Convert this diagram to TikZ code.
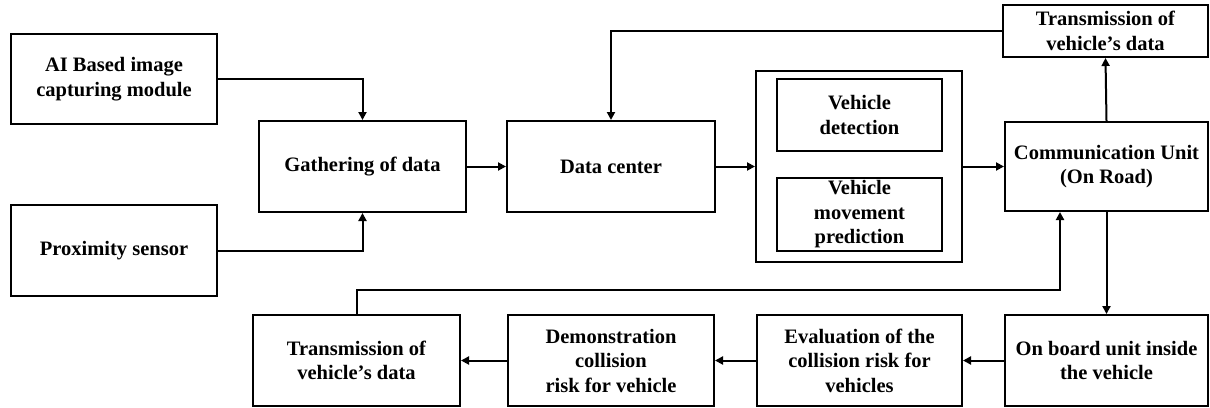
\documentclass[tikz,border=0pt]{standalone}
\usepackage{fontspec}
\setmainfont{Liberation Serif}
\usetikzlibrary{arrows.meta}
\begin{document}
\begin{tikzpicture}[x=1pt,y=-1pt,
  box/.style={draw, line width=2pt, align=center, inner sep=0pt,
    font=\bfseries\fontsize{20.5}{24.5}\selectfont},
  arr/.style={line width=2pt, -{Triangle[length=8pt,width=8pt]}}]
\useasboundingbox (0,0) rectangle (1210,407);

% input sources and collection
\node[box, minimum width=206pt, minimum height=90pt] (ai) at (114,79) {AI Based image\\capturing module};
\node[box, minimum width=206pt, minimum height=91pt] (prox) at (114,250.5) {Proximity sensor};
\node[box, minimum width=207pt, minimum height=91pt] (gath) at (362.5,166.5) {Gathering of data};
\node[box, minimum width=208pt, minimum height=91pt] (dc) at (611,166.5) {Data center};

% processing block
\node[box, minimum width=206pt, minimum height=191pt] (proc) at (859,166.5) {};
\node[box, minimum width=165pt, minimum height=72pt] (vdet) at (859.5,115) {Vehicle\\detection};
\node[box, minimum width=165pt, minimum height=73pt] (vmov) at (859.5,214.5) {Vehicle\\movement\\prediction};

% roadside communication
\node[box, minimum width=203pt, minimum height=89pt] (comm) at (1106.5,166.5) {Communication Unit\\(On Road)};
\node[box, minimum width=205pt, minimum height=52pt] (trtop) at (1105.5,31) {Transmission of\\vehicle’s data};

% in-vehicle chain
\node[box, minimum width=203pt, minimum height=91pt] (onb) at (1106.5,360.5) {On board unit inside\\the vehicle};
\node[box, minimum width=205pt, minimum height=91pt] (eval) at (859.5,360.5) {Evaluation of the\\collision risk for\\vehicles};
\node[box, minimum width=206pt, minimum height=91pt] (demo) at (611,360.5) {Demonstration\\collision\\risk for vehicle};
\node[box, minimum width=207pt, minimum height=91pt] (trbot) at (356.5,360.5) {Transmission of\\vehicle’s data};

\coordinate (loop) at (1060,290);

% connectors
\draw[arr] (ai.east) -| (gath.north);
\draw[arr] (prox.east) -| (gath.south);
\draw[arr] (gath) -- (dc);
\draw[arr] (dc) -- (proc);
\draw[arr] (proc) -- (comm);
\draw[arr] (comm.north) -- (trtop.south);
\draw[arr] (trtop.west) -| (dc.north);
\draw[arr] (comm.south) -- (onb.north);
\draw[arr] (onb) -- (eval);
\draw[arr] (eval) -- (demo);
\draw[arr] (demo) -- (trbot);
\draw[arr] (trbot.north) |- (loop) -- (loop |- comm.south);
\end{tikzpicture}
\end{document}
